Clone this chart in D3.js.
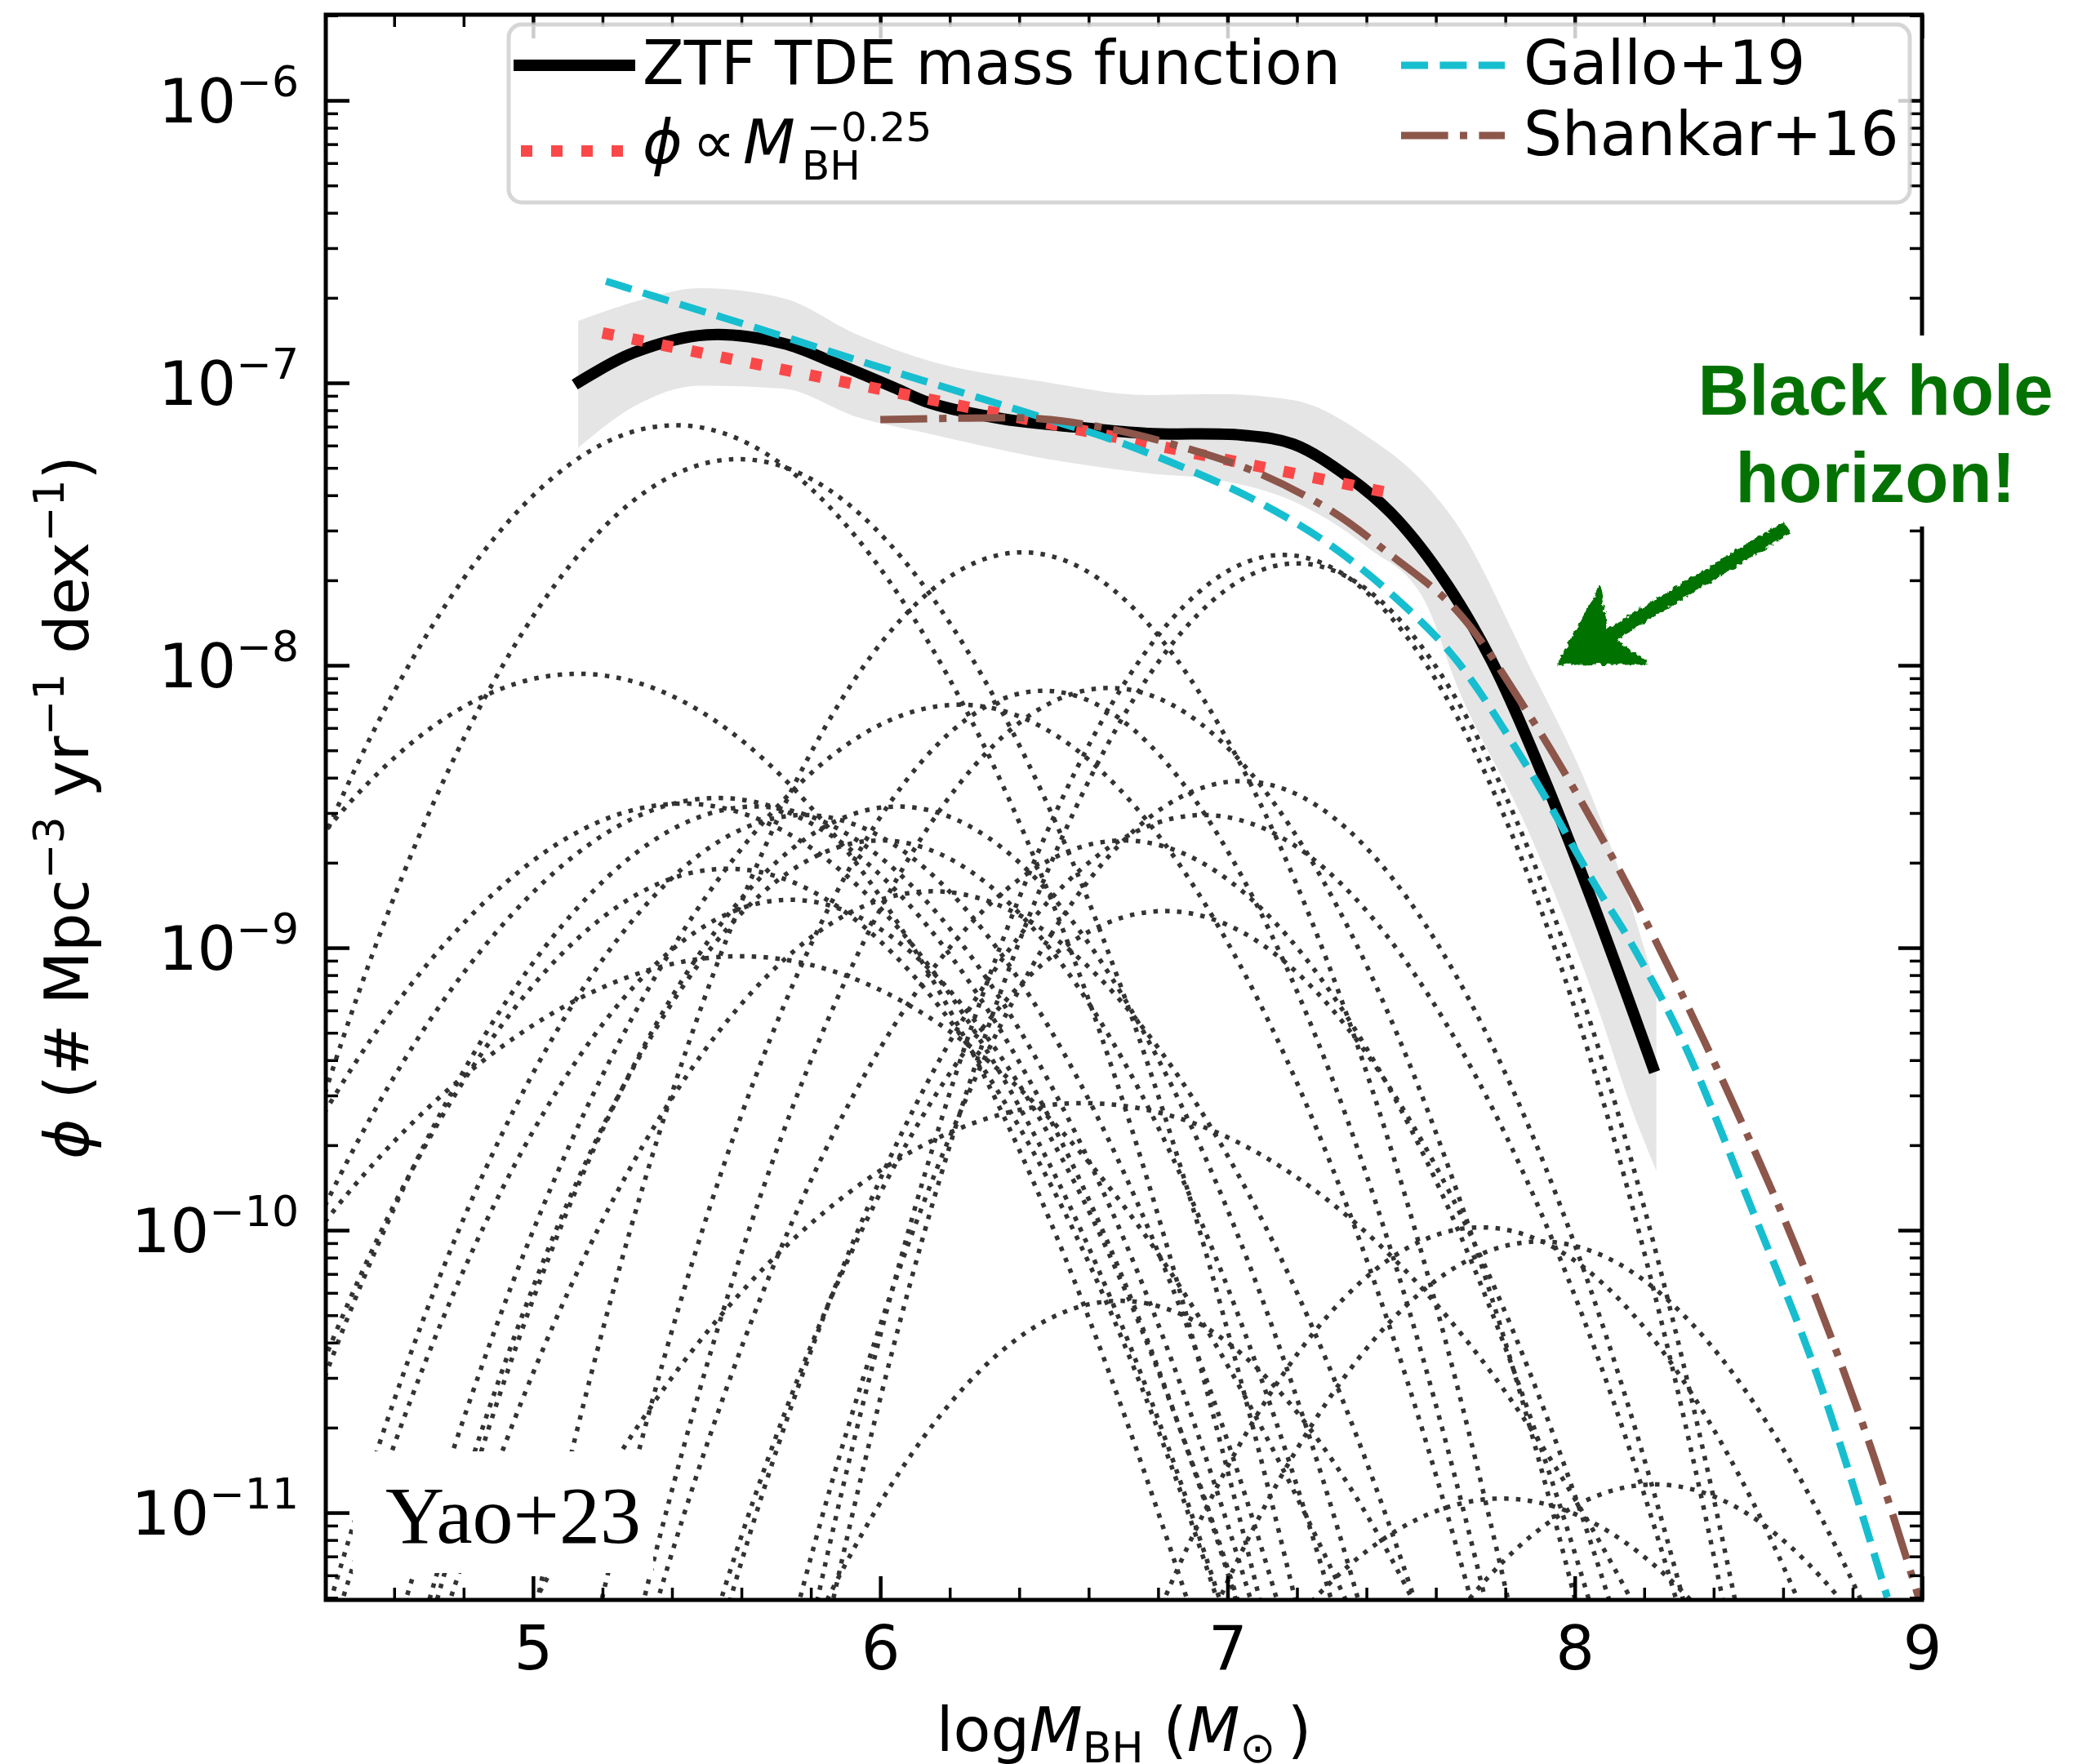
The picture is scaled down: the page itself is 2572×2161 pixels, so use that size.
<!DOCTYPE html>
<html>
<head>
<meta charset="utf-8">
<script src="https://cdn.jsdelivr.net/npm/d3@7"></script>
<style>
  body { margin: 0; background: #fff; }
  svg { display: block; }
  text { font-family: "DejaVu Sans", sans-serif; fill: #000; }
</style>
</head>
<body>
<div id="chart"></div>
<script>
// ZTF TDE mass function, log10 M_BH vs log10 phi
const ztfLogM = [5.12, 5.29, 5.50, 5.72, 5.87, 6.04, 6.14, 6.35, 6.56, 6.77, 7.04, 7.19, 7.35, 7.47, 7.61, 7.76, 7.91, 8.06, 8.23];
const ztfLogPhi = [-7.006, -6.893, -6.83, -6.86, -6.93, -7.017, -7.07, -7.127, -7.156, -7.179, -7.185, -7.217, -7.335, -7.46, -7.673, -7.983, -8.396, -8.867, -9.44];

// uncertainty band
const bandLogM = [5.13, 5.29, 5.48, 5.72, 5.93, 6.14, 6.46, 6.77, 6.98, 7.19, 7.40, 7.57, 7.66, 7.86, 8.06, 8.17, 8.235];
const bandUpper = [-6.78, -6.714, -6.665, -6.70, -6.827, -6.922, -6.994, -7.043, -7.04, -7.061, -7.188, -7.36, -7.50, -7.98, -8.50, -8.88, -9.15];
const bandLower = [-7.23, -7.084, -7.01, -7.02, -7.12, -7.18, -7.265, -7.32, -7.345, -7.42, -7.58, -7.777, -8.07, -8.57, -9.19, -9.59, -9.79];

// phi ~ M^-0.25
const powerLogM = [5.2, 7.5];
const powerLogPhi = [-6.823, -7.398];

// Gallo+19
const galloLogM = [5.21, 5.35, 5.66, 5.96, 6.25, 6.46, 6.67, 6.88, 7.09, 7.30, 7.51, 7.66, 7.86, 8.06, 8.155, 8.31, 8.51, 8.70, 8.90];
const galloLogPhi = [-6.64, -6.694, -6.812, -6.93, -7.04, -7.12, -7.202, -7.303, -7.422, -7.578, -7.79, -7.983, -8.353, -8.78, -8.968, -9.327, -9.925, -10.52, -11.3];

// Shankar+16
const shankarLogM = [6.0, 6.25, 6.46, 6.67, 6.88, 7.09, 7.30, 7.46, 7.66, 7.86, 8.06, 8.23, 8.45, 8.65, 8.85, 8.99];
const shankarLogPhi = [-7.13, -7.125, -7.127, -7.165, -7.231, -7.32, -7.454, -7.60, -7.806, -8.159, -8.572, -8.968, -9.535, -10.1, -10.76, -11.3];

// individual TDE host curves (dotted), [log M, log phi]
const hostCurves = [
  [[3.31,-13.5],[4.01,-9.97],[4.71,-7.86],[5.41,-7.15],[6.11,-7.86],[6.81,-9.99],[7.51,-13.54]],
  [[3.49,-14.33],[4.19,-10.41],[4.89,-8.05],[5.59,-7.27],[6.29,-8.03],[6.99,-10.31],[7.69,-14.11]],
  [[3.03,-12.66],[3.73,-10.09],[4.43,-8.545],[5.13,-8.03],[5.83,-8.545],[6.53,-10.09],[7.23,-12.66]],
  [[4.31,-15.98],[5.01,-11.32],[5.71,-8.53],[6.41,-7.60],[7.11,-8.53],[7.81,-11.32],[8.51,-15.98]],
  [[5.08,-16.43],[5.78,-11.53],[6.48,-8.59],[7.18,-7.61],[7.88,-8.79],[8.58,-12.31],[9.28,-18.19]],
  [[5.12,-16.46],[5.82,-11.56],[6.52,-8.62],[7.22,-7.64],[7.92,-8.82],[8.62,-12.34],[9.32,-18.22]],
  [[4.15,-13.43],[4.85,-10.49],[5.55,-8.73],[6.25,-8.14],[6.95,-8.875],[7.65,-11.08],[8.35,-14.76]],
  [[4.37,-16.91],[5.07,-12.01],[5.77,-9.07],[6.47,-8.09],[7.17,-9.07],[7.87,-12.01],[8.57,-16.91]],
  [[4.56,-16.02],[5.26,-11.61],[5.96,-8.96],[6.66,-8.08],[7.36,-8.96],[8.06,-11.61],[8.76,-16.02]],
  [[3.35,-12.9],[4.05,-10.45],[4.75,-8.98],[5.45,-8.49],[6.15,-9.08],[6.85,-10.84],[7.55,-13.78]],
  [[3.45,-13.32],[4.15,-10.63],[4.85,-9.01],[5.55,-8.47],[6.25,-9.11],[6.95,-11.02],[7.65,-14.2]],
  [[3.55,-14.23],[4.25,-11.05],[4.95,-9.14],[5.65,-8.50],[6.35,-9.19],[7.05,-11.24],[7.75,-14.67]],
  [[3.68,-15.15],[4.38,-11.47],[5.08,-9.27],[5.78,-8.53],[6.48,-9.27],[7.18,-11.47],[7.88,-15.15]],
  [[4.83,-15.15],[5.53,-11.47],[6.23,-9.27],[6.93,-8.53],[7.63,-9.27],[8.33,-11.47],[9.03,-15.15]],
  [[4.94,-16.35],[5.64,-11.94],[6.34,-9.29],[7.04,-8.41],[7.74,-9.29],[8.44,-11.94],[9.14,-16.35]],
  [[4.72,-15.49],[5.42,-11.81],[6.12,-9.6],[6.82,-8.87],[7.52,-9.6],[8.22,-11.81],[8.92,-15.49]],
  [[3.51,-11.9],[4.21,-10.30],[4.91,-9.35],[5.61,-9.03],[6.31,-9.40],[7.01,-10.5],[7.71,-12.34]],
  [[4.485,-12.64],[5.185,-10.92],[5.885,-9.89],[6.585,-9.55],[7.285,-9.89],[7.985,-10.92],[8.685,-12.64]],
  [[4.59,-16.87],[5.29,-13.19],[5.99,-10.985],[6.69,-10.25],[7.39,-10.985],[8.09,-13.19],[8.79,-16.87]],
  [[5.63,-17.05],[6.33,-13.13],[7.03,-10.77],[7.73,-9.99],[8.43,-10.77],[9.13,-13.13],[9.83,-17.05]],
  [[5.8,-16.66],[6.5,-12.98],[7.2,-10.775],[7.9,-10.04],[8.6,-10.775],[9.3,-12.98],[10.0,-16.66]],
  [[6.13,-17.07],[6.83,-13.64],[7.53,-11.59],[8.23,-10.90],[8.93,-11.59],[9.63,-13.64],[10.33,-17.07]],
  [[5.69,-16.24],[6.39,-13.3],[7.09,-11.54],[7.79,-10.95],[8.49,-11.54],[9.19,-13.3],[9.89,-16.24]],
  [[3.46,-14.45],[4.16,-11.27],[4.86,-9.36],[5.56,-8.72],[6.26,-9.36],[6.96,-11.27],[7.66,-14.45]],
  [[3.64,-15.45],[4.34,-11.77],[5.04,-9.565],[5.74,-8.83],[6.44,-9.565],[7.14,-11.77],[7.84,-15.45]],
  [[3.95,-15.56],[4.65,-11.64],[5.35,-9.28],[6.05,-8.50],[6.75,-9.28],[7.45,-11.64],[8.15,-15.56]],
  [[3.9,-15.68],[4.6,-11.76],[5.3,-9.40],[6.0,-8.62],[6.7,-9.40],[7.4,-11.76],[8.1,-15.68]],
  [[4.6,-15.24],[5.3,-11.56],[6.0,-9.355],[6.7,-8.62],[7.4,-9.355],[8.1,-11.56],[8.8,-15.24]],
  [[4.05,-14.53],[4.75,-11.35],[5.45,-9.44],[6.15,-8.80],[6.85,-9.44],[7.55,-11.35],[8.25,-14.53]]
];

// axis ticks
const xMajorTicks = [5, 6, 7, 8, 9];
const xMinorTicks = [4.6, 4.8, 5.2, 5.4, 5.6, 5.8, 6.2, 6.4, 6.6, 6.8, 7.2, 7.4, 7.6, 7.8, 8.2, 8.4, 8.6, 8.8];
const yMajorExps = [-11, -10, -9, -8, -7, -6];

// line styles
const styles = {
  ztf: { color: '#000', width: 14, dash: null },
  power: { color: '#fa4848', width: 14, dash: '14 23' },
  gallo: { color: '#17becf', width: 9, dash: '33 14.4' },
  shankar: { color: '#8c564b', width: 9, dash: '57.6 14.4 9 14.4' }
};

const width = 2572;
const height = 2161;
const margin = { top: 18, right: 218, bottom: 201, left: 399 };
const innerWidth = width - margin.left - margin.right;
const innerHeight = height - margin.top - margin.bottom;

const svg = d3.select('#chart').append('svg')
  .attr('width', width)
  .attr('height', height);
const defs = svg.append('defs');
defs.append('clipPath').attr('id', 'clip')
  .append('rect').attr('width', innerWidth).attr('height', innerHeight);

const xScale = d3.scaleLinear().domain([4.403, 9]).range([0, innerWidth]);
const yScale = d3.scaleLog()
  .domain([Math.pow(10, -11.309), Math.pow(10, -5.6965)])
  .range([innerHeight, 0]);

const zip = (xs, ys) => xs.map((v, i) => [v, ys[i]]);
const px = d => xScale(d[0]);
const py = d => yScale(Math.pow(10, d[1]));

const plot = svg.append('g').attr('transform', `translate(${margin.left},${margin.top})`);
const layer = plot.append('g').attr('clip-path', 'url(#clip)');

// shaded band
const band = bandLogM.map((m, i) => ({ m: m, lo: bandLower[i], hi: bandUpper[i] }));
layer.append('path')
  .datum(band)
  .attr('d', d3.area()
    .x(d => xScale(d.m))
    .y0(d => yScale(Math.pow(10, d.lo)))
    .y1(d => yScale(Math.pow(10, d.hi)))
    .curve(d3.curveMonotoneX))
  .attr('fill', '#e5e5e5');

// dotted host curves
const hostLine = d3.line().x(px).y(py).curve(d3.curveNatural);
layer.selectAll('.host')
  .data(hostCurves)
  .enter()
  .append('path')
  .attr('class', 'host')
  .attr('d', hostLine)
  .attr('fill', 'none')
  .attr('stroke', '#333')
  .attr('stroke-width', 5.5)
  .attr('stroke-dasharray', '5.5 9');

function drawLine(data, st, curve) {
  layer.append('path')
    .datum(data)
    .attr('d', d3.line().x(px).y(py).curve(curve))
    .attr('fill', 'none')
    .attr('stroke', st.color)
    .attr('stroke-width', st.width)
    .attr('stroke-dasharray', st.dash);
}
drawLine(zip(ztfLogM, ztfLogPhi), styles.ztf, d3.curveCatmullRom);
drawLine(zip(powerLogM, powerLogPhi), styles.power, d3.curveLinear);
drawLine(zip(galloLogM, galloLogPhi), styles.gallo, d3.curveCatmullRom);
drawLine(zip(shankarLogM, shankarLogPhi), styles.shankar, d3.curveCatmullRom);

// Yao+23 label with white box
plot.append('rect')
  .attr('x', 432 - margin.left).attr('y', 1778 - margin.top)
  .attr('width', 368).attr('height', 149)
  .attr('fill', '#fff');
plot.append('text')
  .attr('x', 472 - margin.left).attr('y', 1890 - margin.top)
  .attr('font-size', 100)
  .style('font-family', '"Liberation Serif", serif')
  .text('Yao+23');

// axes
const yMajor = yMajorExps.map(e => Math.pow(10, e));
const yMinor = yScale.ticks().filter(v => {
  const m = v / Math.pow(10, Math.floor(Math.log10(v) + 1e-9));
  return Math.round(m) !== 1;
});

function tidy(g, w, keepText) {
  g.select('.domain').remove();
  g.selectAll('line').attr('stroke', '#000').attr('stroke-width', w);
  if (!keepText) g.selectAll('text').remove();
}

plot.append('g')
  .attr('transform', `translate(0,${innerHeight})`)
  .call(d3.axisBottom(xScale).tickValues(xMajorTicks).tickSize(-29).tickSizeOuter(0).tickFormat(d3.format('d')))
  .call(g => {
    tidy(g, 4.5, true);
    g.selectAll('text').attr('y', 85).attr('dy', null).attr('font-size', 75);
  });
plot.append('g')
  .attr('transform', `translate(0,${innerHeight})`)
  .call(d3.axisBottom(xScale).tickValues(xMinorTicks).tickSize(-15).tickSizeOuter(0))
  .call(g => tidy(g, 3.5));
plot.append('g')
  .call(d3.axisTop(xScale).tickValues(xMajorTicks).tickSize(-29).tickSizeOuter(0))
  .call(g => tidy(g, 4.5));
plot.append('g')
  .call(d3.axisTop(xScale).tickValues(xMinorTicks).tickSize(-15).tickSizeOuter(0))
  .call(g => tidy(g, 3.5));

plot.append('g')
  .call(d3.axisLeft(yScale).tickValues(yMajor).tickSize(-29).tickSizeOuter(0))
  .call(g => tidy(g, 4.5));
plot.append('g')
  .call(d3.axisLeft(yScale).tickValues(yMinor).tickSize(-15).tickSizeOuter(0))
  .call(g => tidy(g, 3.5));
plot.append('g')
  .attr('transform', `translate(${innerWidth},0)`)
  .call(d3.axisRight(yScale).tickValues(yMajor).tickSize(-29).tickSizeOuter(0))
  .call(g => tidy(g, 4.5));
plot.append('g')
  .attr('transform', `translate(${innerWidth},0)`)
  .call(d3.axisRight(yScale).tickValues(yMinor).tickSize(-15).tickSizeOuter(0))
  .call(g => tidy(g, 3.5));

// y tick labels 10^n
const ylabels = plot.append('g').selectAll('text')
  .data(yMajorExps)
  .enter()
  .append('text')
  .attr('x', 366 - margin.left)
  .attr('y', e => yScale(Math.pow(10, e)) + 27)
  .attr('text-anchor', 'end')
  .attr('font-size', 75);
ylabels.append('tspan').text('10');
ylabels.append('tspan').attr('font-size', 52).attr('dy', -32).text(e => '\u2212' + Math.abs(e));

// frame
plot.append('rect')
  .attr('width', innerWidth).attr('height', innerHeight)
  .attr('fill', 'none').attr('stroke', '#000').attr('stroke-width', 5);

// axis labels
const xlab = svg.append('text')
  .attr('x', margin.left + innerWidth / 2).attr('y', 2145)
  .attr('text-anchor', 'middle').attr('font-size', 75);
xlab.append('tspan').text('log');
xlab.append('tspan').attr('font-style', 'italic').text('M');
xlab.append('tspan').attr('font-size', 52).attr('dy', 14).text('BH');
xlab.append('tspan').attr('dy', -14).text(' (');
xlab.append('tspan').attr('font-style', 'italic').text('M');
xlab.append('tspan').attr('font-size', 52).attr('dy', 14).text('\u2299');
xlab.append('tspan').attr('dy', -14).text('\u2009)');

const ylab = svg.append('text')
  .attr('transform', `translate(108,${margin.top + innerHeight / 2}) rotate(-90)`)
  .attr('text-anchor', 'middle').attr('font-size', 75);
ylab.append('tspan').attr('font-style', 'italic').text('\u03d5');
ylab.append('tspan').text(' (# Mpc');
ylab.append('tspan').attr('font-size', 52).attr('dy', -30).text('\u22123');
ylab.append('tspan').attr('dy', 30).text(' yr');
ylab.append('tspan').attr('font-size', 52).attr('dy', -30).text('\u22121');
ylab.append('tspan').attr('dy', 30).text(' dex');
ylab.append('tspan').attr('font-size', 52).attr('dy', -30).text('\u22121');
ylab.append('tspan').attr('dy', 30).text(')');

// annotation
svg.append('rect')
  .attr('x', 2060).attr('y', 411).attr('width', 475).attr('height', 234)
  .attr('fill', '#fff');
const note = svg.append('text')
  .attr('text-anchor', 'middle')
  .attr('font-size', 87)
  .attr('font-weight', 'bold')
  .style('font-family', '"Liberation Sans", Arial, sans-serif')
  .style('fill', '#037203');
note.append('tspan').attr('x', 2297).attr('y', 508).text('Black hole');
note.append('tspan').attr('x', 2297).attr('y', 615).text('horizon!');

// hand-drawn looking arrow
const rough = defs.append('filter').attr('id', 'rough')
  .attr('x', '-20%').attr('y', '-20%').attr('width', '140%').attr('height', '140%');
rough.append('feTurbulence')
  .attr('type', 'fractalNoise').attr('baseFrequency', 0.18).attr('numOctaves', 2).attr('result', 'noise');
rough.append('feDisplacementMap')
  .attr('in', 'SourceGraphic').attr('in2', 'noise').attr('scale', 8)
  .attr('xChannelSelector', 'R').attr('yChannelSelector', 'G');
svg.append('path')
  .attr('d', 'M1908,814 L1960,718 L1968,772 L2184,640 L2191,653 L1977,784 L2018,812 Z')
  .attr('fill', '#037203')
  .attr('stroke', '#037203')
  .attr('stroke-width', 2)
  .attr('stroke-linejoin', 'round')
  .attr('filter', 'url(#rough)');

// legend
const legend = svg.append('g');
legend.append('rect')
  .attr('x', 623).attr('y', 30).attr('width', 1716).attr('height', 218).attr('rx', 16)
  .attr('fill', '#fff').attr('fill-opacity', 0.8)
  .attr('stroke', '#ccc').attr('stroke-opacity', 0.8).attr('stroke-width', 5);

function handle(x1, x2, yy, st) {
  legend.append('line')
    .attr('x1', x1).attr('x2', x2).attr('y1', yy).attr('y2', yy)
    .attr('stroke', st.color).attr('stroke-width', st.width)
    .attr('stroke-dasharray', st.dash);
}
handle(629, 778, 80, styles.ztf);
handle(638, 775, 185, styles.power);
handle(1716, 1843, 80, styles.gallo);
handle(1716, 1843, 166, styles.shankar);

legend.append('text').attr('x', 787).attr('y', 103).attr('font-size', 74).text('ZTF TDE mass function');
legend.append('text').attr('x', 1866).attr('y', 103).attr('font-size', 74).text('Gallo+19');
legend.append('text').attr('x', 1866).attr('y', 190).attr('font-size', 74).text('Shankar+16');
const pl = legend.append('text').attr('font-size', 74);
pl.append('tspan').attr('x', 787).attr('y', 200).attr('font-style', 'italic').text('\u03d5');
pl.append('tspan').attr('x', 848).attr('y', 200).text('\u221d');
pl.append('tspan').attr('x', 910).attr('y', 200).attr('font-style', 'italic').text('M');
pl.append('tspan').attr('x', 982).attr('y', 220).attr('font-size', 50).text('BH');
pl.append('tspan').attr('x', 988).attr('y', 173).attr('font-size', 50).text('\u22120.25');
</script>
</body>
</html>
